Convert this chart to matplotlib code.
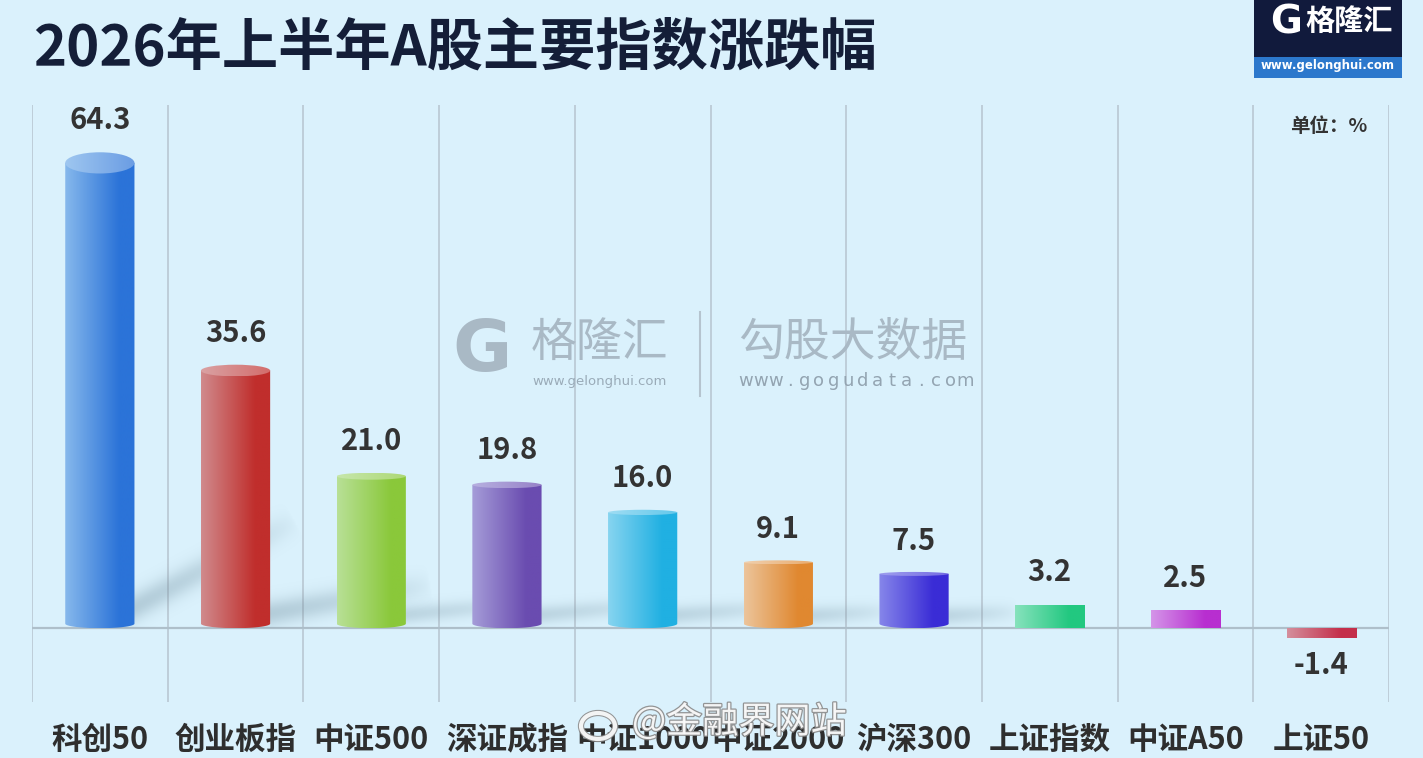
import numpy as np
import matplotlib
matplotlib.use('Agg')
import matplotlib.pyplot as plt
from matplotlib.patches import Ellipse, Rectangle, PathPatch
from matplotlib.path import Path
import matplotlib.patheffects as pe
import matplotlib.transforms as mtransforms
from matplotlib.colors import to_rgb

plt.rcParams['font.family'] = ['Noto Sans CJK SC', 'DejaVu Sans']

# ---------------- data ----------------
title = '2026年上半年A股主要指数涨跌幅'
categories = ['科创50', '创业板指', '中证500', '深证成指', '中证1000',
              '中证2000', '沪深300', '上证指数', '中证A50', '上证50']
values = [64.3, 35.6, 21.0, 19.8, 16.0, 9.1, 7.5, 3.2, 2.5, -1.4]
value_labels = ['64.3', '35.6', '21.0', '19.8', '16.0', '9.1', '7.5', '3.2', '2.5', '-1.4']
light_colors = ['#86b8ec', '#d08a8c', '#b8e096', '#a59cd8', '#86d4f0',
                '#ecc49a', '#8686ea', '#86e2bc', '#d494e8', '#d48e9c']
dark_colors = ['#2b73d8', '#c02e2c', '#8ac83a', '#6a4cb0', '#20b0e2',
               '#e08830', '#3a2cd6', '#22c880', '#b82ed0', '#c42e4a']
unit_text = '单位：%'

W, H = 1423, 758
BG = '#daf1fc'
fig = plt.figure(figsize=(W / 100, H / 100), dpi=100)
fig.patch.set_facecolor(BG)

ax_left, ax_right, ax_top, ax_bot = 32, 1389, 105, 702
ax = fig.add_axes([ax_left / W, (H - ax_bot) / H, (ax_right - ax_left) / W, (ax_bot - ax_top) / H])
ax.set_facecolor('none')
ax.axis('off')
YMIN, YMAX = -10.2, 72.3
n = len(categories)
px_per_unit = (ax_bot - ax_top) / (YMAX - YMIN)
px_per_cat = (ax_right - ax_left) / n

for k in range(n + 1):
    ax.axvline(k - 0.5, color='#b9c8d2', lw=1.2, zorder=1)
ax.axhline(0, color='#aebfca', lw=1.6, zorder=1)


def blend(c, other, t):
    a = np.array(to_rgb(c)); b = np.array(to_rgb(other))
    return a * (1 - t) + b * t


def hgrad(c1, c2, N=64, knee=0.78):
    t = np.clip(np.linspace(0, 1, N) / knee, 0, 1)
    a = np.array(to_rgb(c1)); b = np.array(to_rgb(c2))
    return (a[None, :] * (1 - t[:, None]) + b[None, :] * t[:, None])[None, :, :]


def soft_shadow(xa, ya, xb, yb, sigma=11.0, a0=0.28):
    padx = 3 * sigma / px_per_cat
    pady = 3 * sigma / px_per_unit
    xmin, xmax = min(xa, xb) - padx, max(xa, xb) + padx
    ymin, ymax = 0.0, max(ya, yb) + pady
    X, Y = np.meshgrid(np.linspace(xmin, xmax, 160), np.linspace(ymin, ymax, 120))
    PX = (X - xa) * px_per_cat
    PY = (Y - ya) * px_per_unit
    DX = (xb - xa) * px_per_cat
    DY = (yb - ya) * px_per_unit
    s = np.clip((PX * DX + PY * DY) / (DX * DX + DY * DY), 0, 1)
    d = np.hypot(PX - s * DX, PY - s * DY)
    alpha = a0 * (1 - s) ** 0.5 * np.exp(-(d / sigma) ** 2)
    rgba = np.zeros(X.shape + (4,))
    rgba[..., :3] = to_rgb('#6a8898')
    rgba[..., 3] = alpha
    ax.imshow(rgba, extent=[xmin, xmax, ymin, ymax], origin='lower', aspect='auto',
              zorder=2, interpolation='bilinear')


w = 0.51
for i, v in enumerate(values):
    x0, x1 = i - w / 2, i + w / 2
    lc, dc = light_colors[i], dark_colors[i]
    if v > 5:
        dx = 1.3 if v > 30 else 0.4 + 0.03 * v
        dy = 0.8 + 0.0031 * v * v
        soft_shadow(x1 - 0.12, 1.6, x1 - 0.12 + dx, dy + 1.2,
                    sigma=13 if v > 30 else 9, a0=0.36 if v > 30 else 0.28)

    if v >= 5:
        hb = 9 / px_per_unit
        ht = max(0.33 * v, 4) / px_per_unit
        t = np.linspace(np.pi, 2 * np.pi, 40)
        bx = i + (w / 2) * np.cos(t)
        by = hb / 2 + (hb / 2) * np.sin(t)
        verts = [(x0, v)] + list(zip(bx, by)) + [(x1, v), (x0, v)]
        codes = [Path.MOVETO] + [Path.LINETO] * (len(verts) - 2) + [Path.CLOSEPOLY]
        body = PathPatch(Path(verts, codes), transform=ax.transData, facecolor='none', edgecolor='none')
        ax.add_patch(body)
        im = ax.imshow(hgrad(lc, dc), extent=[x0, x1, 0, v], aspect='auto', zorder=3,
                       interpolation='bilinear')
        im.set_clip_path(body)
        top = Ellipse((i, v), w, ht, transform=ax.transData, facecolor='none', edgecolor='none')
        ax.add_patch(top)
        im2 = ax.imshow(hgrad(blend(lc, 'white', 0.2), blend(dc, 'white', 0.3), knee=1.0),
                        extent=[x0, x1, v - ht / 2, v + ht / 2], aspect='auto', zorder=4,
                        interpolation='bilinear')
        im2.set_clip_path(top)
    else:
        lo, hi = min(0, v), max(0, v)
        rect = Rectangle((x0, lo), w, hi - lo, transform=ax.transData, facecolor='none', edgecolor='none')
        ax.add_patch(rect)
        im = ax.imshow(hgrad(lc, dc), extent=[x0, x1, lo, hi], aspect='auto', zorder=3,
                       interpolation='bilinear')
        im.set_clip_path(rect)

    off = 32 + 0.17 * v if v >= 0 else -27
    ax.annotate(value_labels[i], (i, v), xytext=(0, off), textcoords='offset pixels',
                ha='center', va='center', fontsize=21, fontweight='bold', color='#333333',
                zorder=6)

ax.set_xlim(-0.5, n - 0.5)
ax.set_ylim(YMIN, YMAX)

# category labels
trans = mtransforms.blended_transform_factory(ax.transData, fig.transFigure)
for i, c in enumerate(categories):
    ax.text(i, (H - 740) / H, c, transform=trans, ha='center', va='center',
            fontsize=22, fontweight='bold', color='#2e2e2e', clip_on=False, zorder=6)

# title
fig.text(33 / W, 1 - 48 / H, title, ha='left', va='center', fontsize=40.5,
         fontweight='bold', color='#141e38')

# logo top-right
fig.add_artist(Rectangle((1254 / W, 1 - 57 / H), 148 / W, 57 / H, transform=fig.transFigure,
                         facecolor='#111a3c', edgecolor='none'))
fig.add_artist(Rectangle((1254 / W, 1 - 78 / H), 148 / W, 21 / H, transform=fig.transFigure,
                         facecolor='#2c78cc', edgecolor='none'))
fig.text(1286 / W, 1 - 22 / H, 'G', ha='center', va='center', fontsize=28, fontweight='heavy',
         color='white', family='DejaVu Sans')
fig.text(1349 / W, 1 - 21 / H, '格隆汇', ha='center', va='center', fontsize=21,
         fontweight='bold', color='white')
fig.text(1328 / W, 1 - 66 / H, 'www.gelonghui.com', ha='center', va='center', fontsize=8.5,
         fontweight='bold', color='white', family='DejaVu Sans')

fig.text(1329 / W, 1 - 126 / H, unit_text, ha='center', va='center', fontsize=14,
         fontweight='bold', color='#333333')

# watermark
wm = '#a9b9c5'
fig.text(482 / W, 1 - 352 / H, 'G', ha='center', va='center', fontsize=52, fontweight='heavy',
         color=wm, family='DejaVu Sans')
fig.text(600 / W, 1 - 343 / H, '格隆汇', ha='center', va='center', fontsize=33, color=wm)
fig.text(600 / W, 1 - 381 / H, 'www.gelonghui.com', ha='center', va='center', fontsize=9.5,
         color='#9aabb8', family='DejaVu Sans')
fig.add_artist(plt.Line2D([700 / W, 700 / W], [1 - 312 / H, 1 - 396 / H], transform=fig.transFigure,
                          color='#b5c4cf', lw=1.5))
fig.text(853 / W, 1 - 343 / H, '勾股大数据', ha='center', va='center', fontsize=33, color=wm)
site = 'www.gogudata.com'
for k, ch in enumerate(site):
    fig.text((746 + k * 14.6) / W, 1 - 381 / H, ch, ha='center', va='center', fontsize=13,
             color='#93a4b1', family='DejaVu Sans')

# weibo overlay
wb = fig.text(632 / W, 1 - 722 / H, '@金融界网站', ha='left', va='center', fontsize=26,
              color='white', alpha=0.9)
wb.set_path_effects([pe.withStroke(linewidth=1.8, foreground='#8a8a8a')])
e = Ellipse((598 / W, 1 - 726 / H), 34 / W, 26 / H, transform=fig.transFigure,
            facecolor='none', edgecolor='white', lw=3, alpha=0.9)
e.set_path_effects([pe.withStroke(linewidth=4.5, foreground='#8a8a8a')])
fig.add_artist(e)

fig.savefig('out.png', dpi=100, facecolor=BG)
